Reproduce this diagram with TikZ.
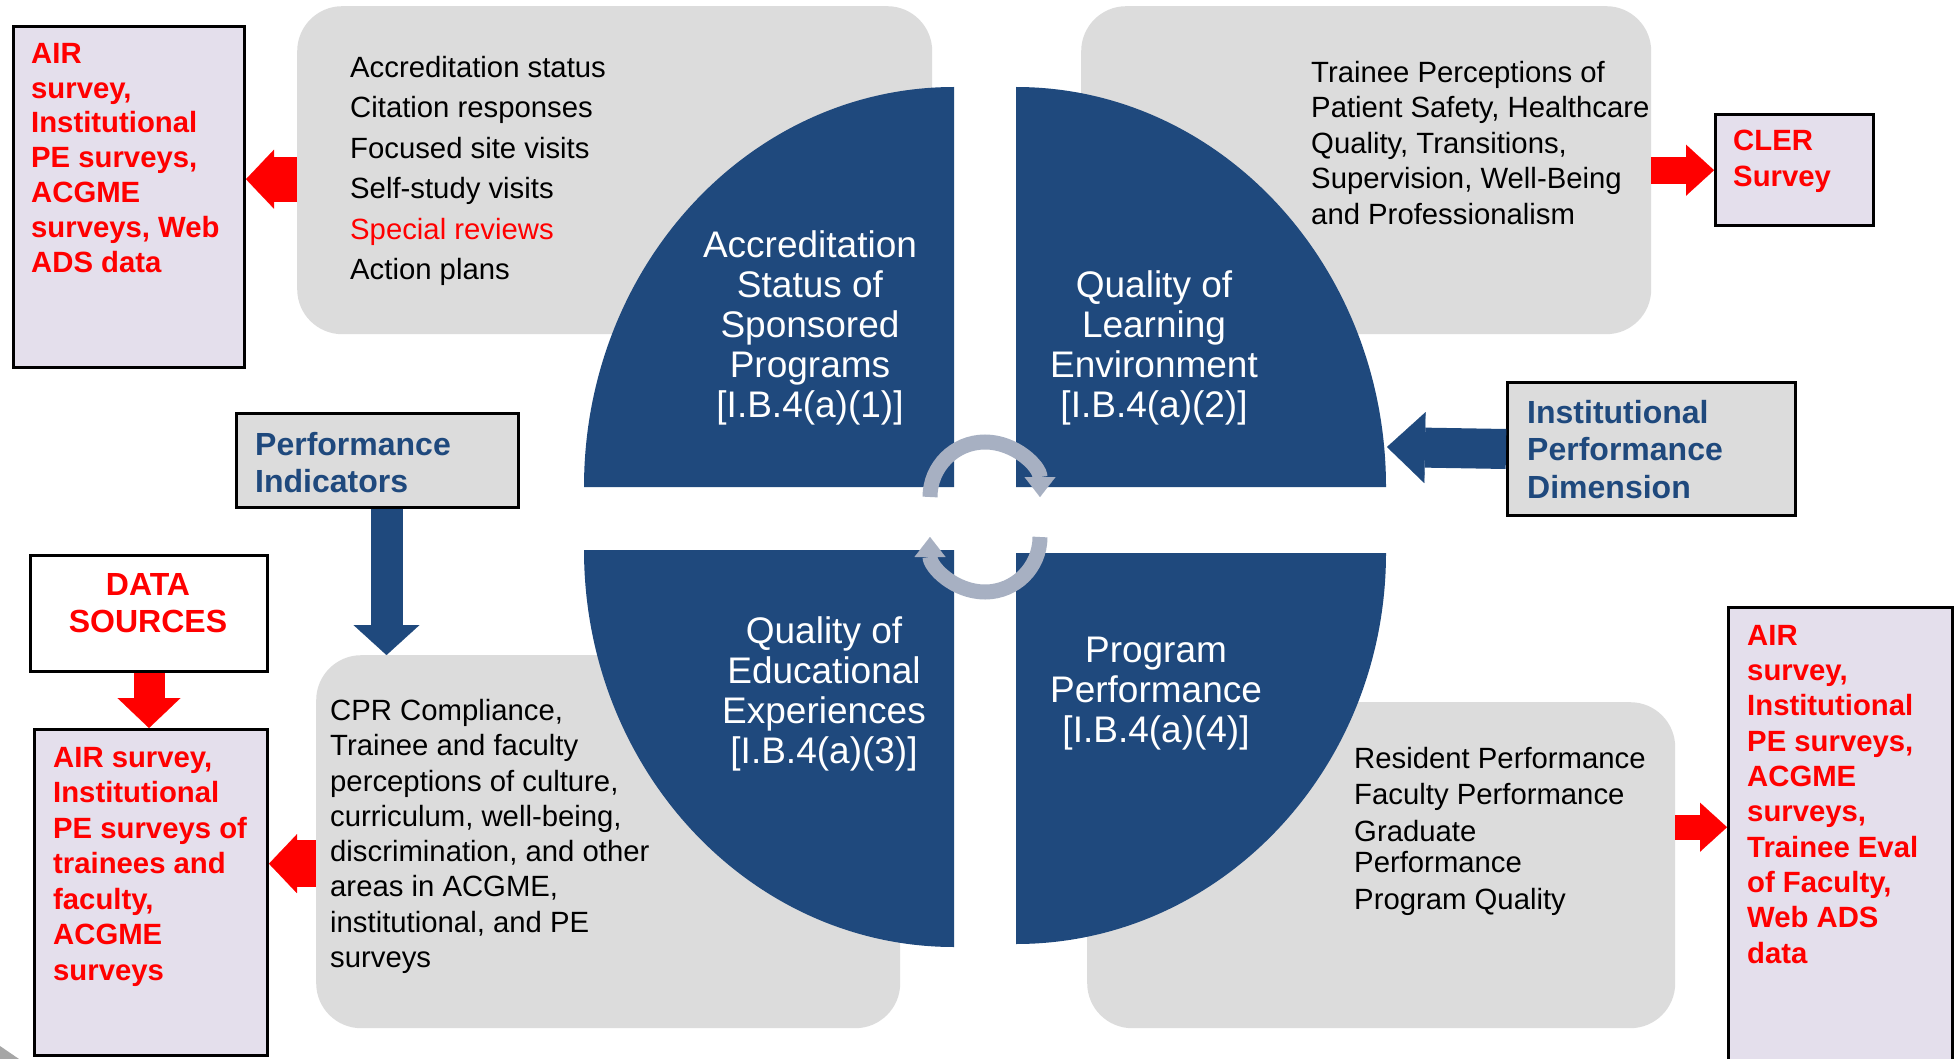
\documentclass[tikz,border=0pt]{standalone}
\usepackage{fontspec}
\setmainfont{Liberation Sans}
\usetikzlibrary{arrows.meta}

\definecolor{qblue}{HTML}{1F497D}
\definecolor{boxgray}{HTML}{DCDCDC}
\definecolor{lavend}{HTML}{E4DFEC}
\definecolor{ringgray}{HTML}{A7B0C2}
\definecolor{srcred}{HTML}{FF0000}

\begin{document}
\begin{tikzpicture}[x=1pt, y=-1pt,
  graybox/.style={fill=boxgray, rounded corners=45pt, anchor=north west, inner sep=0pt},
  srcbox/.style={fill=lavend, draw=black, line width=3pt, anchor=north west, inner sep=0pt},
  tagbox/.style={fill=boxgray, draw=black, line width=3pt, anchor=north west, inner sep=0pt},
  listtext/.style={anchor=north west, align=left, inner sep=0pt, font=\fontsize{29.3}{#1}\selectfont},
  srctext/.style={anchor=north west, align=left, inner sep=0pt, text=srcred, font=\fontsize{29.3}{#1}\selectfont\bfseries},
  tagtext/.style={anchor=north west, align=left, inner sep=0pt, text=qblue, font=\fontsize{32}{37.5}\selectfont\bfseries},
  quartext/.style={anchor=north, align=center, inner sep=0pt, text=white, font=\fontsize{37}{40}\selectfont},
  redarrow/.style n args={3}{draw=srcred, line width=#1, -{Triangle[width=#2, length=#3, line width=0.1pt]}},
  bluearrow/.style n args={3}{draw=qblue, line width=#1, -{Triangle[width=#2, length=#3, line width=0.1pt]}},
  ringarrow/.style={draw=ringgray, line width=15pt, -{Triangle[width=31pt, length=20pt, line width=0.1pt]}}
]
\fill[white] (0,0) rectangle (1954,1059);
\useasboundingbox (0,0) rectangle (1954,1059);

%gray boxes
\node[graybox, minimum width=635pt, minimum height=328pt] (tlbox) at (297,6) {};
\node[graybox, minimum width=570pt, minimum height=328pt] (trbox) at (1081,6) {};
\node[graybox, minimum width=584pt, minimum height=373pt] (blbox) at (316,655) {};
\node[graybox, minimum width=588pt, minimum height=326pt] (brbox) at (1087,702) {};

%quarters
\fill[qblue] (954,487) -- ++(-370,0) arc[start angle=180, end angle=270, x radius=370, y radius=400] -- cycle;
\fill[qblue] (1016,487) -- ++(0,-400) arc[start angle=270, end angle=360, x radius=370, y radius=400] -- cycle;
\fill[qblue] (954,550) -- ++(-370,0) arc[start angle=180, end angle=90, x radius=370, y radius=397] -- cycle;
\fill[qblue] (1016,553) -- ++(370,0) arc[start angle=0, end angle=90, x radius=370, y radius=391] -- cycle;

%ring
\draw[ringarrow] (930,497) arc[start angle=180, end angle=360, radius=55];
\draw[ringarrow] (1040,537) arc[start angle=0, end angle=180, radius=55];

\node[quartext] (q1) at (810,230) {Accreditation\\Status of\\Sponsored\\Programs\\{}[I.B.4(a)(1)]};
\node[quartext] (q2) at (1154,270) {Quality of\\Learning\\Environment\\{}[I.B.4(a)(2)]};
\node[quartext] (q3) at (824,616) {Quality of\\Educational\\Experiences\\{}[I.B.4(a)(3)]};
\node[quartext] (q4) at (1156,637) {Program\\Performance\\{}[I.B.4(a)(4)]};

%box texts
\node[listtext=40.4] (tllist) at (350,56) {Accreditation status\\Citation responses\\Focused site visits\\Self-study visits\\\textcolor{srcred}{Special reviews}\\Action plans};
\node[listtext=35.5] (trlist) at (1311,61) {Trainee Perceptions of\\Patient Safety, Healthcare\\Quality, Transitions,\\Supervision, Well-Being\\and Professionalism};
\node[listtext=35.3] (bllist) at (330,699) {CPR Compliance,\\Trainee and faculty\\perceptions of culture,\\curriculum, well-being,\\discrimination, and other\\areas in ACGME,\\institutional, and PE\\surveys};
\node[listtext=36.5] (brlist) at (1354,747) {Resident Performance\\Faculty Performance\\Graduate\\[-5pt]Performance\\Program Quality};

%sources
\node[srcbox, minimum width=231pt, minimum height=341pt] (air1) at (12,25) {};
\node[srctext=34.8] (air1t) at (31,43) {AIR\\survey,\\Institutional\\PE surveys,\\ACGME\\surveys, Web\\ADS data};
\node[srcbox, minimum width=158pt, minimum height=111pt] (cler) at (1714,113) {};
\node[srctext=36] (clert) at (1733,130) {CLER\\Survey};
\node[srcbox, fill=white, minimum width=237pt, minimum height=116pt] (ds) at (29,554) {};
\node[anchor=north, align=center, inner sep=0pt, text=srcred, font=\fontsize{32}{37}\selectfont\bfseries] (dst) at (148,573) {DATA\\SOURCES};
\node[srcbox, minimum width=233pt, minimum height=326pt] (air2) at (33,728) {};
\node[srctext=35.5] (air2t) at (53,747) {AIR survey,\\Institutional\\PE surveys of\\trainees and\\faculty,\\ACGME\\surveys};
\node[srcbox, minimum width=224pt, minimum height=470pt] (air3) at (1727,606) {};
\node[srctext=35.3] (air3t) at (1747,625) {AIR\\survey,\\Institutional\\PE surveys,\\ACGME\\surveys,\\Trainee Eval\\of Faculty,\\Web ADS\\data};

%tags
\node[tagbox, minimum width=282pt, minimum height=94pt] (pi) at (235,412) {};
\node[tagtext] (pit) at (255,432) {Performance\\Indicators};
\node[tagbox, minimum width=288pt, minimum height=133pt] (ipd) at (1506,381) {};
\node[tagtext] (ipdt) at (1527,400) {Institutional\\Performance\\Dimension};

%arrows
\coordinate (tlout) at ([yshift=-9pt]tlbox.west);
\draw[redarrow={45pt}{59pt}{28pt}] (tlout) -- (tlout -| air1.east);
\draw[redarrow={27pt}{51pt}{28pt}] (trbox.east) -- (trbox.east -| cler.west);
\draw[redarrow={31pt}{63pt}{30pt}] (ds.south) -- (ds.south |- air2.north);
\coordinate (blout) at ([yshift=-22pt]blbox.west);
\draw[redarrow={47pt}{59pt}{28pt}] (blout) -- (blout -| air2.east);
\coordinate (brout) at ([yshift=38pt]brbox.east);
\draw[redarrow={25pt}{49pt}{27pt}] (brout) -- (brout -| air3.west);
\coordinate (pidrop) at ([xshift=9pt]pi.south);
\draw[bluearrow={32pt}{66pt}{30pt}] (pidrop) -- (pidrop |- blbox.north);
\coordinate (qedge) at (1387,447);
\draw[bluearrow={40pt}{71pt}{38pt}] (ipd.west) -- (qedge);

\fill[gray!70] (0,1046) -- (19,1059) -- (0,1059) -- cycle;
\end{tikzpicture}
\end{document}
